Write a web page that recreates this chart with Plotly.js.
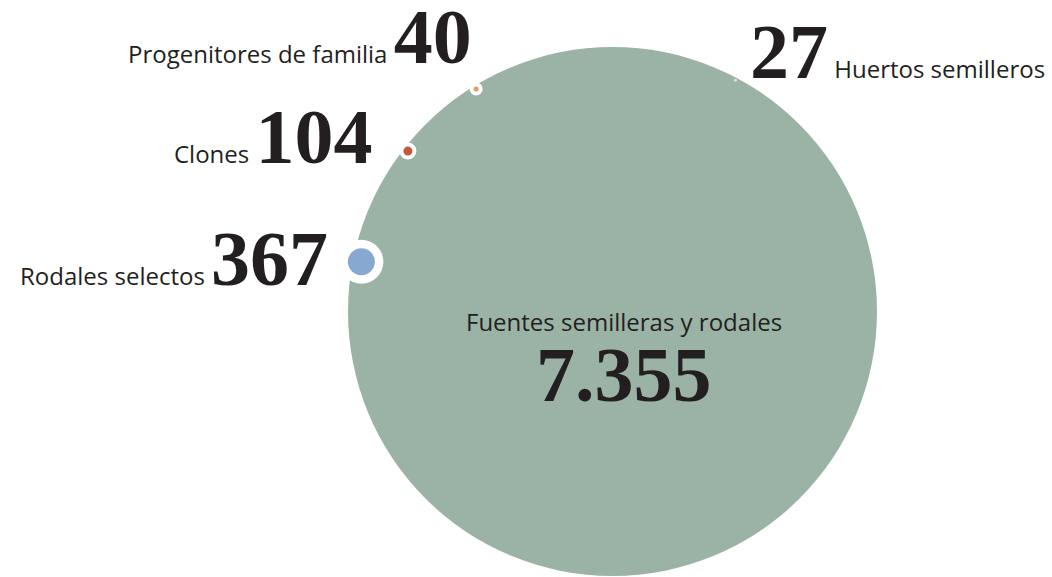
<!DOCTYPE html>
<html>
<head>
<meta charset="utf-8">
<script src="https://cdn.plot.ly/plotly-3.0.1.min.js"></script>
<style>
  html, body { margin: 0; padding: 0; background: #ffffff; }
  #chart { width: 1052px; height: 577px; }
</style>
</head>
<body>
<div id="chart"></div>
<script>
// ---- data ----
const totalLabel = "Fuentes semilleras y rodales";
const totalValue = 7355;
const categories = ["Rodales selectos", "Clones", "Progenitores de familia", "Huertos semilleros"];
const values = [367, 104, 40, 27];

// ---- styles / layout constants ----
const W = 1052, H = 577;
const cx = 612.5, cy = 311.5, bigR = 264.5;
const dotAngles = [168.8, 141.9, 121.5, 62.0];   // degrees around the big circle
const dotRadii  = [256, 260, 261, 262];
const dotColors = ["#87a8d0", "#c9563a", "#ea9a5c", "#e9ddd2"];
const dotSizes  = [27, 9, 5, 3];
const ringSizes = [44, 17, 13, 0];
const bigColor = "#9bb3a5";
const textColor = "#231f20";
const labelFont = "'Open Sans', Lato, sans-serif";
const numFont = "'Liberation Serif', 'Times New Roman', serif";

function fmtThousands(v) {
  return String(v).replace(/\B(?=(\d{3})+(?!\d))/g, '.');
}

const dx = dotAngles.map((a, i) => cx + dotRadii[i] * Math.cos(a * Math.PI / 180));
const dy = dotAngles.map((a, i) => cy - dotRadii[i] * Math.sin(a * Math.PI / 180));

const traces = [
  { // big circle
    type: 'scatter', mode: 'markers', x: [cx], y: [cy],
    marker: { size: [2 * bigR], color: bigColor, opacity: 1, line: { width: 0 } },
    cliponaxis: false, hoverinfo: 'skip', showlegend: false,
    customdata: [totalValue]
  },
  { // white rings
    type: 'scatter', mode: 'markers', x: dx, y: dy,
    marker: { size: ringSizes, color: '#ffffff', opacity: 1, line: { width: 0 } },
    cliponaxis: false, hoverinfo: 'skip', showlegend: false
  },
  { // coloured dots
    type: 'scatter', mode: 'markers', x: dx, y: dy,
    marker: { size: dotSizes, color: dotColors, opacity: 1, line: { width: 0 } },
    cliponaxis: false, showlegend: false,
    text: categories, customdata: values,
    hovertemplate: '%{text}: %{customdata}<extra></extra>'
  }
];

function num(v, size) {
  return "<span style='font-family:" + numFont.replace(/'/g, "") + ";font-size:" + size + "px;font-weight:bold'>" + fmtThousands(v) + "</span>";
}

const labelSize = 24;
const annotations = [
  { x: 330, y: 304, xanchor: 'right', yanchor: 'bottom',
    text: categories[0] + " " + num(values[0], 78) },
  { x: 374, y: 182, xanchor: 'right', yanchor: 'bottom',
    text: categories[1] + " " + num(values[1], 78) },
  { x: 474, y: 82, xanchor: 'right', yanchor: 'bottom',
    text: categories[2] + " " + num(values[2], 78) },
  { x: 748, y: 97, xanchor: 'left', yanchor: 'bottom',
    text: num(values[3], 78) + " " + categories[3] },
  { x: cx + 11, y: 340, xanchor: 'center', yanchor: 'bottom',
    text: totalLabel, font: { family: labelFont, size: 24, color: textColor } },
  { x: cx + 11, y: 420, xanchor: 'center', yanchor: 'bottom',
    text: num(totalValue, 78) }
].map(a => Object.assign({
  xref: 'x', yref: 'y', showarrow: false,
  font: { family: labelFont, size: labelSize, color: textColor }
}, a));

const layout = {
  width: W, height: H,
  margin: { l: 0, r: 0, t: 0, b: 0, pad: 0 },
  paper_bgcolor: '#ffffff', plot_bgcolor: '#ffffff',
  xaxis: { range: [0, W], visible: false, fixedrange: true },
  yaxis: { range: [H, 0], visible: false, fixedrange: true },
  annotations: annotations,
  showlegend: false
};

Plotly.newPlot('chart', traces, layout, { displayModeBar: false, staticPlot: true });
</script>
</body>
</html>
